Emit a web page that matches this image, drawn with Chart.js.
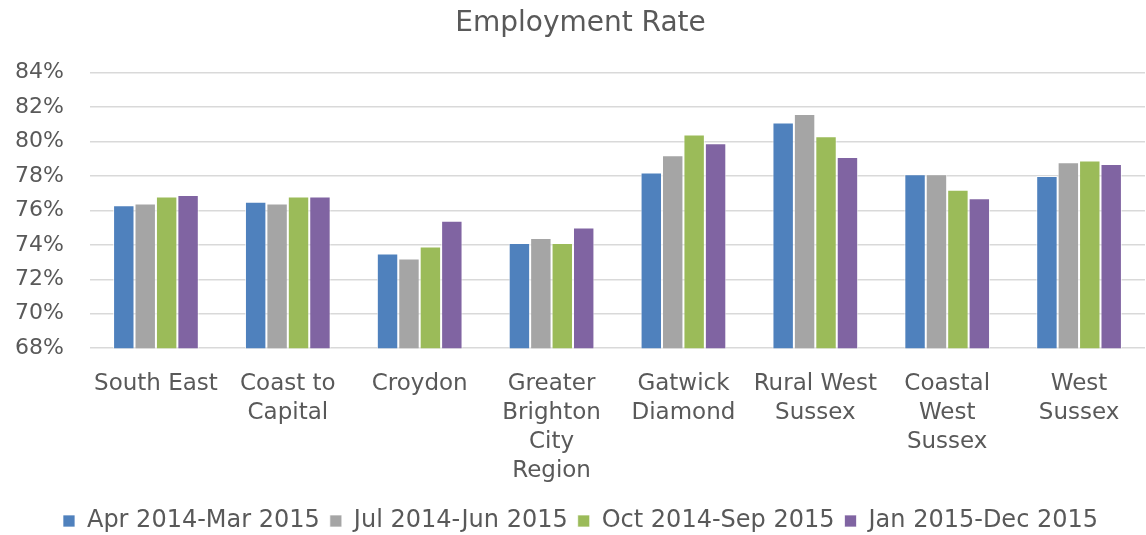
<!DOCTYPE html>
<html>
<head>
<meta charset="utf-8">
<title>Employment Rate</title>
<script src="https://cdn.jsdelivr.net/npm/chart.js@4"></script>
<style>
  html, body { margin: 0; padding: 0; background: #fff; }
  #wrap { width: 1146px; height: 535px; }
</style>
</head>
<body>
<div id="wrap"><canvas id="Employment_Chart"></canvas></div>
<script>
// data
const areas = [
  ['South East'],
  ['Coast to', 'Capital'],
  ['Croydon'],
  ['Greater', 'Brighton', 'City', 'Region'],
  ['Gatwick', 'Diamond'],
  ['Rural West', 'Sussex'],
  ['Coastal', 'West', 'Sussex'],
  ['West', 'Sussex']
];
const periods = ['Apr 2014-Mar 2015', 'Jul 2014-Jun 2015', 'Oct 2014-Sep 2015', 'Jan 2015-Dec 2015'];
const aprMar = [76.3, 76.5, 73.5, 74.1, 78.2, 81.1, 78.1, 78.0];
const julJun = [76.4, 76.4, 73.2, 74.4, 79.2, 81.6, 78.1, 78.8];
const octSep = [76.8, 76.8, 73.9, 74.1, 80.4, 80.3, 77.2, 78.9];
const janDec = [76.9, 76.8, 75.4, 75.0, 79.9, 79.1, 76.7, 78.7];
const colours = ['#4F81BD', '#A5A5A5', '#9BBB59', '#8064A2'];

const ctx = document.getElementById('Employment_Chart');

const Employment_Chart = new Chart(ctx, {
  type: 'bar',
  data: {
    labels: areas,
    datasets: [aprMar, julJun, octSep, janDec].map((d, i) => ({
      label: periods[i],
      data: d,
      backgroundColor: colours[i],
      borderColor: 'rgba(255,255,255,0.7)',
      borderWidth: 1,
      categoryPercentage: 0.65,
      barPercentage: 1.0
    }))
  },
  options: {
    responsive: true,
    maintainAspectRatio: false,
    animation: false,
    layout: { padding: { left: 16, right: 1, top: 2, bottom: -8 } },
    plugins: {
      title: {
        display: true,
        text: 'Employment Rate',
        color: '#595959',
        font: { family: 'DejaVu Sans', size: 28, weight: 'normal' },
        padding: { top: 5, bottom: 32 }
      },
      legend: {
        position: 'bottom',
        labels: {
          color: '#595959',
          font: { family: 'DejaVu Sans', size: 24 },
          boxWidth: 12,
          boxHeight: 12,
          padding: 10
        }
      },
      tooltip: { enabled: false }
    },
    scales: {
      x: {
        grid: { display: false },
        border: { display: false },
        afterFit: scale => { scale.paddingLeft = 0; scale.paddingRight = 0; },
        ticks: {
          color: '#595959',
          font: { family: 'DejaVu Sans', size: 23, lineHeight: 1.27 },
          maxRotation: 0,
          autoSkip: false,
          padding: 13
        }
      },
      y: {
        min: 68,
        max: 84,
        grid: { color: '#D9D9D9', lineWidth: 1.5, drawTicks: false },
        border: { display: false },
        // fixed width: labels + one padding, so the plot starts at x=90
        afterFit: scale => { scale.width = 74; },
        ticks: {
          stepSize: 2,
          color: '#595959',
          font: { family: 'DejaVu Sans', size: 22 },
          padding: 26,
          callback: v => v + '%'
        }
      }
    }
  }
});
</script>
</body>
</html>
